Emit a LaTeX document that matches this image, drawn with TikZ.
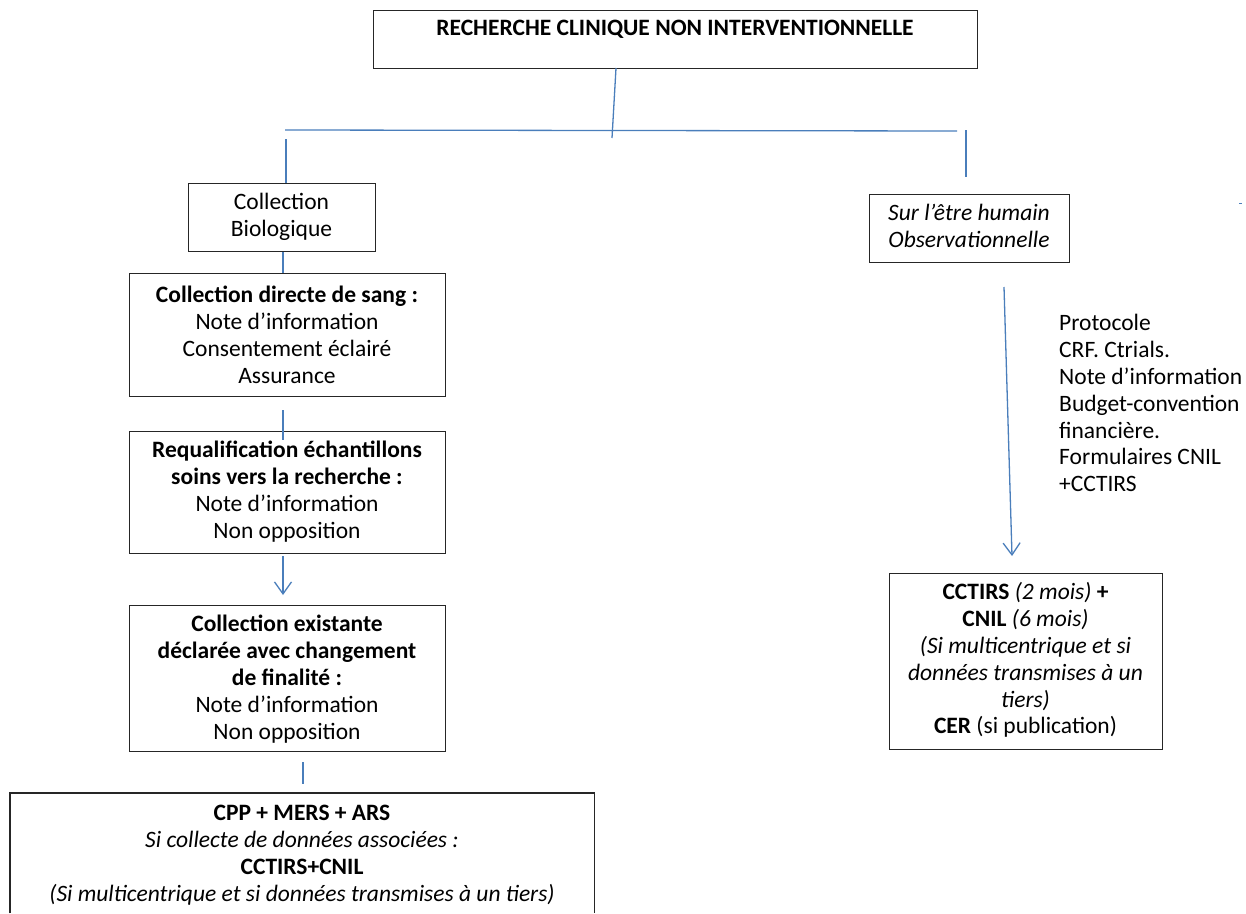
\documentclass[tikz,border=0pt]{standalone}
\usepackage{fontspec}
\setmainfont{Carlito}
\usetikzlibrary{arrows.meta}
\definecolor{wordblue}{RGB}{74,126,187}
\begin{document}
\begin{tikzpicture}[x=1pt,y=-1pt,
  box/.style={draw=black!85,line width=1.4pt,inner sep=0pt,anchor=north west},
  txt/.style={align=center,inner sep=0pt,anchor=north,font=\fontsize{23.5}{26.8}\selectfont},
  ltxt/.style={align=left,inner sep=0pt,anchor=north west,font=\fontsize{23.5}{26.8}\selectfont},
  conn/.style={draw=wordblue,line width=1.3pt},
  arr/.style={conn,-{Straight Barb[length=12pt,width=17pt,line width=1.3pt]}}]
\useasboundingbox (0,0) rectangle (1246,913);
% boxes
\node[box,minimum width=604pt,minimum height=58pt] (top) at (373,10) {};
\node[box,minimum width=187pt,minimum height=68pt] (biol) at (188,183) {};
\node[box,minimum width=316pt,minimum height=123pt] (dir) at (129,273) {};
\node[box,minimum width=316pt,minimum height=122pt] (req) at (129,431) {};
\node[box,minimum width=316pt,minimum height=146pt] (exi) at (129,605) {};
\node[inner sep=0pt,minimum width=584pt,minimum height=120pt,anchor=north west] (cpp) at (10,793) {};
\draw[draw=black!85,line width=1.4pt] (cpp.south west) -- (cpp.north west) -- (cpp.north east) -- (cpp.south east);
\node[box,minimum width=200pt,minimum height=68pt] (sur) at (869,194) {};
\node[box,minimum width=273pt,minimum height=176pt] (cct) at (889,573) {};
% texts
\node[txt] (top-t) at (675,17) {\strut\textbf{RECHERCHE CLINIQUE NON INTERVENTIONNELLE}};
\node[txt] (biol-t) at (281.5,191) {\strut Collection\\Biologique};
\node[txt] (dir-t) at (287,284) {\strut\textbf{Collection directe de sang :}\\Note d’information\\Consentement éclairé\\Assurance};
\node[txt] (req-t) at (287,439) {\strut\textbf{Requalification échantillons}\\\textbf{soins vers la recherche :}\\Note d’information\\Non opposition};
\node[txt] (exi-t) at (287,613) {\strut\textbf{Collection existante}\\\textbf{déclarée avec changement}\\\textbf{de finalité :}\\Note d’information\\Non opposition};
\node[txt] (cpp-t) at (302,802) {\strut\textbf{CPP + MERS + ARS}\\\textit{Si collecte de données associées :}\\\textbf{CCTIRS+CNIL}\\\textit{(Si multicentrique et si données transmises à un tiers)}};
\node[txt] (sur-t) at (969,202) {\strut\textit{Sur l’être humain}\\\textit{Observationnelle}};
\node[txt] (cct-t) at (1025.5,581) {\strut\textbf{CCTIRS} \textit{(2 mois)} \textbf{+}\\\textbf{CNIL} \textit{(6 mois)}\\\textit{(Si multicentrique et si}\\\textit{données transmises à un}\\\textit{tiers)}\\\textbf{CER} (si publication)};
\node[ltxt] (doc) at (1059,312) {\strut Protocole\\CRF. Ctrials.\\Note d’information\\Budget-convention\\financière.\\Formulaires CNIL\\+CCTIRS};
% connector points
\coordinate (tdown) at (616,68);
\coordinate (tend) at (612,138);
\coordinate (hl) at (285,130);
\coordinate (hr) at (957,131);
\coordinate (lv) at (286,139);
\coordinate (rvt) at (966,130);
\coordinate (rvb) at (966,177);
\coordinate (d1) at (283,410);
\coordinate (d2) at (283,440);
\coordinate (e1) at (303,762);
\coordinate (e2) at (303,784);
\coordinate (s1) at (1004,287);
\coordinate (s2) at (1012,556);
\coordinate (r1) at (283,556);
\coordinate (r2) at (283,595);
\coordinate (dot1) at (1239,203);
\coordinate (dot2) at (1242,203);
% connectors
\draw[conn] (tdown) -- (tend);
\draw[conn] (hl) -- (hr);
\draw[conn] (lv) -- (lv |- biol.north);
\draw[conn] (rvt) -- (rvb);
\draw[conn] (biol.south -| 283,0) -- (dir.north -| 283,0);
\draw[conn] (d1) -- (d2);
\draw[arr] (r1) -- (r2);
\draw[conn] (e1) -- (e2);
\draw[arr] (s1) -- (s2);
\draw[conn,line width=0.8pt] (dot1) -- (dot2);
\end{tikzpicture}
\end{document}
